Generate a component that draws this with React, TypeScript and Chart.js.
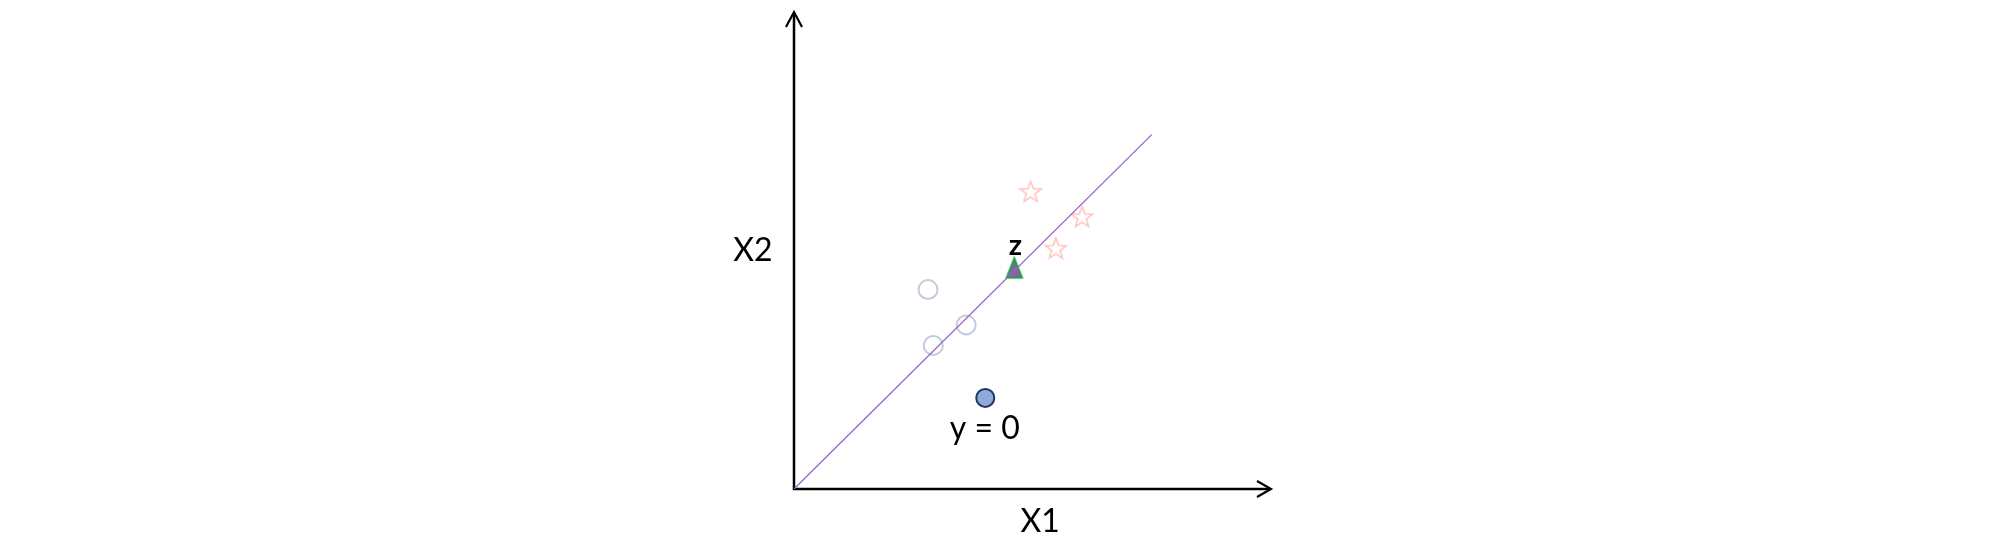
import React, { useEffect, useRef } from "react";
import { Chart, registerables } from "chart.js";

Chart.register(...registerables);

// Data (arbitrary feature units)
const lineX = [0, 7.5];
const lineY = [0, 7.43];
const starX = [4.96, 6.04, 5.49];
const starY = [6.23, 5.7, 5.04];
const openCircleX = [2.81, 3.61, 2.92];
const openCircleY = [4.18, 3.44, 3.01];
const filledX = [4.01];
const filledY = [1.91];
const triX = [4.62];
const triY = [4.63];
const axisMax = 10;
const textLabels = ["z", "y = 0", "X1", "X2"];
const textX = [4.64, 4.0, 5.16, -0.86];
const textY = [5.1, 1.27, -0.68, 4.99];

const FONT = "Lato, 'Open Sans', sans-serif";

function makeStar(): HTMLCanvasElement {
  const c = document.createElement("canvas");
  c.width = 28;
  c.height = 28;
  const ctx = c.getContext("2d")!;
  const cx = 14, cy = 14.5, ro = 11, ri = 4.6;
  ctx.beginPath();
  for (let i = 0; i < 10; i++) {
    const r = i % 2 === 0 ? ro : ri;
    const a = -Math.PI / 2 + (i * Math.PI) / 5;
    const px = cx + r * Math.cos(a);
    const py = cy + r * Math.sin(a);
    if (i === 0) ctx.moveTo(px, py);
    else ctx.lineTo(px, py);
  }
  ctx.closePath();
  ctx.fillStyle = "#ffffff";
  ctx.fill();
  ctx.lineWidth = 1.6;
  ctx.strokeStyle = "#ffc4bd";
  ctx.lineJoin = "miter";
  ctx.stroke();
  return c;
}

function makeTriangle(): HTMLCanvasElement {
  const c = document.createElement("canvas");
  c.width = 20;
  c.height = 26;
  const ctx = c.getContext("2d")!;
  ctx.beginPath();
  ctx.moveTo(10, 3.5);
  ctx.lineTo(2.5, 22.5);
  ctx.lineTo(17.5, 22.5);
  ctx.closePath();
  ctx.fillStyle = "#8e5db0";
  ctx.fill();
  ctx.lineWidth = 2.2;
  ctx.strokeStyle = "#1f9f4c";
  ctx.stroke();
  return c;
}

const toPts = (xs: number[], ys: number[]) => xs.map((x, i) => ({ x, y: ys[i] }));

const overlayPlugin = {
  id: "overlay",
  beforeDatasetsDraw(chart: any) {
    const ctx = chart.ctx;
    const xs = chart.scales.x;
    const ys = chart.scales.y;
    const ox = xs.getPixelForValue(0);
    const oy = ys.getPixelForValue(0);
    const tx = xs.getPixelForValue(axisMax);
    const ty = ys.getPixelForValue(axisMax);
    ctx.save();
    ctx.strokeStyle = "#000000";
    ctx.lineWidth = 2.5;
    ctx.lineCap = "butt";
    ctx.beginPath();
    ctx.moveTo(ox, oy + 1.25);
    ctx.lineTo(ox, ty + 1);
    ctx.moveTo(ox - 1.25, oy);
    ctx.lineTo(tx - 1, oy);
    ctx.stroke();
    // arrowheads
    ctx.lineWidth = 2.2;
    ctx.lineJoin = "miter";
    ctx.beginPath();
    ctx.moveTo(ox - 8, ty + 15);
    ctx.lineTo(ox, ty);
    ctx.lineTo(ox + 8, ty + 15);
    ctx.moveTo(tx - 14, oy - 8);
    ctx.lineTo(tx, oy);
    ctx.lineTo(tx - 14, oy + 8);
    ctx.stroke();
    ctx.restore();
  },
  afterDraw(chart: any) {
    const ctx = chart.ctx;
    const xs = chart.scales.x;
    const ys = chart.scales.y;
    ctx.save();
    ctx.fillStyle = "#000000";
    ctx.textAlign = "center";
    ctx.textBaseline = "middle";
    textLabels.forEach((t, i) => {
      ctx.font = i === 0 ? `bold 29px ${FONT}` : `32px ${FONT}`;
      ctx.fillText(t, xs.getPixelForValue(textX[i]), ys.getPixelForValue(textY[i]));
    });
    ctx.restore();
  },
};

export default function App() {
  const ref = useRef<HTMLCanvasElement | null>(null);
  useEffect(() => {
    if (!ref.current) return;
    const star = makeStar();
    const tri = makeTriangle();
    const chart = new Chart(ref.current, {
      type: "scatter",
      data: {
        datasets: [
          {
            type: "line",
            data: toPts(lineX, lineY),
            borderColor: "#9a62c4",
            borderWidth: 1.3,
            pointRadius: 0,
            fill: false,
            order: 0,
          } as any,
          {
            data: toPts(triX, triY),
            pointStyle: tri,
            pointRadius: 10,
            order: 1,
          },
          {
            data: toPts(starX, starY),
            pointStyle: star,
            pointRadius: 11,
            order: 2,
          },
          {
            data: toPts(openCircleX, openCircleY),
            pointStyle: "circle",
            pointRadius: 9.5,
            pointBorderWidth: 2,
            pointBackgroundColor: "#ffffff",
            pointBorderColor: "#c3cbdb",
            order: 3,
          },
          {
            data: toPts(filledX, filledY),
            pointStyle: "circle",
            pointRadius: 9,
            pointBorderWidth: 2,
            pointBackgroundColor: "#8eaadb",
            pointBorderColor: "#1f3864",
            order: 4,
          },
        ],
      },
      options: {
        animation: false,
        responsive: false,
        layout: { padding: { left: 794, right: 2002 - 1271, top: 10, bottom: 550 - 489 } },
        plugins: { legend: { display: false }, tooltip: { enabled: false } },
        scales: {
          x: { type: "linear", min: 0, max: axisMax, display: false },
          y: { type: "linear", min: 0, max: axisMax, display: false },
        },
      },
      plugins: [overlayPlugin],
    });
    return () => chart.destroy();
  }, []);
  return (
    <canvas
      ref={ref}
      width={2002}
      height={550}
      style={{ position: "fixed", left: 0, top: 0, width: 2002, height: 550, display: "block" }}
    />
  );
}
